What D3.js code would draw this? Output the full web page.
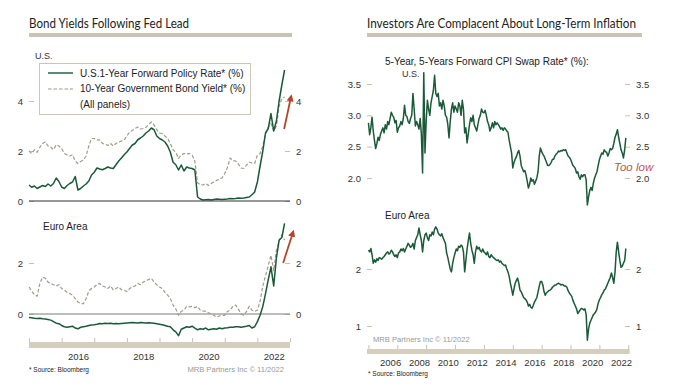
<!DOCTYPE html>
<html><head><meta charset="utf-8">
<script src="https://cdn.jsdelivr.net/npm/d3@7"></script>
<style>body{margin:0;background:#fff}svg{display:block}</style>
</head><body><svg id="c" width="678" height="392"></svg>
<script>
// ---------- DATA ----------
// Left chart: monthly, starting Jan 2015
const leftStart = 2015;
const usPolicy = [
 0.64,0.55,0.6,0.5,0.56,0.62,0.58,0.68,0.6,0.7,0.92,0.78,
 0.56,0.5,0.62,0.7,0.76,0.98,0.44,0.5,0.6,0.68,0.8,1.04,
 1.15,1.32,1.28,1.25,1.3,1.36,1.32,1.3,1.45,1.6,1.72,1.85,
 1.96,2.1,2.24,2.3,2.45,2.52,2.6,2.72,2.8,2.92,2.85,2.6,
 2.5,2.44,2.36,2.2,1.95,1.55,1.45,1.24,1.44,1.2,1.36,1.32,
 1.3,1.24,0.16,0.08,0.04,0.05,0.06,0.04,0.06,0.08,0.07,0.06,
 0.07,0.08,0.1,0.09,0.1,0.12,0.11,0.12,0.14,0.16,0.25,0.36,
 0.76,1.4,2.0,2.72,2.9,3.5,2.8,3.2,4.0,4.64,5.24];
const usBond = [
 2.0,1.9,2.05,1.95,2.15,2.3,2.36,2.2,2.15,2.05,2.25,2.2,
 2.1,1.9,1.84,1.8,1.85,1.6,1.5,1.58,1.64,1.8,2.2,2.5,
 2.5,2.44,2.45,2.3,2.28,2.22,2.3,2.2,2.3,2.36,2.4,2.44,
 2.6,2.76,2.82,2.9,2.96,2.88,2.9,2.95,3.05,3.16,3.04,2.85,
 2.72,2.7,2.6,2.5,2.3,2.05,1.95,1.7,1.84,1.9,1.88,1.9,
 1.84,1.6,0.72,0.66,0.64,0.7,0.62,0.7,0.76,0.82,0.88,0.92,
 1.1,1.35,1.72,1.62,1.6,1.48,1.32,1.3,1.44,1.55,1.52,1.5,
 1.84,1.9,2.2,2.7,2.96,3.1,2.8,3.0,3.8,4.1,4.16];
const euPolicy = [
 -0.14,-0.15,-0.17,-0.18,-0.17,-0.19,-0.2,-0.22,-0.24,-0.3,-0.36,-0.38,
 -0.45,-0.5,-0.52,-0.5,-0.48,-0.55,-0.58,-0.52,-0.5,-0.48,-0.45,-0.43,
 -0.42,-0.4,-0.37,-0.38,-0.36,-0.37,-0.36,-0.38,-0.37,-0.38,-0.37,-0.36,
 -0.35,-0.34,-0.33,-0.34,-0.35,-0.33,-0.34,-0.35,-0.34,-0.35,-0.36,-0.38,
 -0.4,-0.42,-0.45,-0.48,-0.5,-0.62,-0.7,-0.85,-0.6,-0.55,-0.5,-0.52,
 -0.48,-0.55,-0.62,-0.58,-0.6,-0.55,-0.62,-0.6,-0.58,-0.6,-0.55,-0.58,
 -0.55,-0.54,-0.52,-0.52,-0.5,-0.5,-0.52,-0.5,-0.48,-0.45,-0.55,-0.5,
 -0.3,-0.05,0.3,0.8,1.35,1.85,1.1,2.2,2.9,3.0,3.55];
const euBond = [
 1.06,0.9,0.75,0.7,1.2,1.45,1.4,1.25,1.2,1.15,1.1,1.15,
 1.0,0.94,0.85,0.8,0.74,0.6,0.47,0.42,0.4,0.6,0.9,1.0,
 1.06,1.15,1.2,1.1,1.06,1.0,1.1,0.94,1.0,1.06,0.95,0.92,
 0.88,1.0,1.06,1.1,1.2,1.15,1.25,1.3,1.35,1.4,1.25,1.15,
 1.06,1.0,0.85,0.74,0.6,0.35,0.2,-0.05,0.1,0.15,0.3,0.28,
 0.3,0.25,0.3,0.15,0.12,0.1,0.05,0.0,-0.05,-0.12,-0.08,-0.05,
 -0.05,0.1,0.15,0.3,0.35,0.2,0.0,-0.05,0.1,0.3,0.15,0.1,
 0.15,0.5,1.1,1.5,1.9,2.3,1.7,2.5,2.85,3.1,2.9];
const leftTicksTop = [0,2,4];
const leftTicksBottom = [0,2];
const leftYearLabels = [2016,2018,2020,2022];

// Right chart: monthly, starting Jan 2005
const rightStart = 2005;
const usSwap = [
 2.88,2.69,2.8,2.97,2.75,2.6,2.47,2.55,2.65,2.6,2.7,2.75,
 2.8,2.72,2.85,2.78,2.9,2.85,2.95,3.05,3.0,2.97,2.88,2.92,
 2.73,2.8,2.83,2.9,2.85,2.95,3.16,3.0,2.98,2.9,2.87,2.95,
 3.0,3.35,3.1,2.83,2.9,2.85,2.78,2.95,2.7,2.08,3.68,2.4,
 2.9,3.24,3.1,3.0,3.2,3.3,3.4,3.64,3.35,3.3,3.35,3.15,
 3.2,3.1,3.24,3.15,3.0,2.97,2.85,2.64,2.9,3.1,3.2,3.05,
 3.15,3.1,3.05,3.2,3.15,3.0,3.24,3.1,2.72,2.8,2.56,2.7,
 2.85,2.96,2.9,3.0,2.85,2.8,2.75,2.85,2.95,3.0,3.1,3.05,
 3.04,3.08,3.0,2.9,2.85,2.75,2.8,2.88,2.8,2.9,2.85,2.88,
 2.85,2.82,2.78,2.8,2.76,2.8,2.78,2.75,2.73,2.6,2.5,2.4,
 2.16,2.25,2.3,2.34,2.4,2.44,2.35,2.2,2.15,2.1,2.12,2.05,
 1.95,1.84,1.9,2.0,1.95,1.97,1.9,1.95,2.0,2.1,2.35,2.48,
 2.42,2.38,2.35,2.3,2.25,2.2,2.2,2.22,2.25,2.3,2.3,2.35,
 2.38,2.4,2.43,2.42,2.44,2.43,2.45,2.44,2.45,2.4,2.35,2.33,
 2.3,2.25,2.2,2.18,2.15,2.08,2.1,2.02,1.98,2.05,2.02,2.05,
 2.05,1.97,1.57,1.7,1.8,1.85,1.8,1.92,2.0,2.05,2.1,2.2,
 2.29,2.35,2.4,2.38,2.45,2.42,2.41,2.35,2.4,2.47,2.45,2.47,
 2.55,2.65,2.7,2.77,2.65,2.55,2.45,2.4,2.32,2.45,2.64];
const euSwap = [
 2.33,2.3,2.36,2.25,2.1,2.16,2.12,2.18,2.15,2.2,2.19,2.17,
 2.2,2.22,2.25,2.28,2.3,2.26,2.28,2.33,2.3,2.25,2.22,2.25,
 2.2,2.28,2.3,2.35,2.32,2.36,2.3,2.35,2.4,2.45,2.42,2.38,
 2.4,2.45,2.35,2.5,2.55,2.6,2.72,2.6,2.5,2.3,2.5,2.6,
 2.63,2.55,2.5,2.6,2.58,2.65,2.6,2.7,2.74,2.7,2.63,2.6,
 2.58,2.62,2.55,2.5,2.45,2.28,2.2,2.1,2.0,1.95,2.1,2.2,
 2.28,2.35,2.32,2.4,2.38,2.42,2.4,2.3,1.95,2.15,2.35,2.5,
 2.63,2.45,2.33,2.25,2.1,2.3,2.4,2.35,2.38,2.32,2.3,2.35,
 2.3,2.28,2.25,2.3,2.22,2.2,2.25,2.22,2.2,2.18,2.16,2.15,
 2.16,2.12,2.14,2.1,2.08,2.06,2.07,2.0,1.95,1.87,1.75,1.65,
 1.54,1.65,1.75,1.8,1.84,1.75,1.63,1.6,1.55,1.5,1.48,1.46,
 1.42,1.35,1.38,1.33,1.31,1.36,1.42,1.46,1.5,1.6,1.7,1.78,
 1.78,1.72,1.6,1.54,1.58,1.6,1.62,1.63,1.65,1.68,1.7,1.72,
 1.72,1.74,1.75,1.74,1.72,1.73,1.72,1.7,1.7,1.68,1.62,1.58,
 1.55,1.52,1.45,1.4,1.35,1.3,1.22,1.25,1.28,1.31,1.3,1.28,
 1.3,1.2,0.75,0.95,1.05,1.1,1.15,1.2,1.22,1.25,1.3,1.4,
 1.46,1.5,1.55,1.58,1.63,1.65,1.7,1.75,1.8,1.85,1.93,1.85,
 1.75,1.95,2.3,2.47,2.3,2.15,2.03,2.05,2.1,2.15,2.36];
const rightTicksTop = [2.0,2.5,3.0,3.5];
const rightTicksBottom = [1,2];
const rightYearLabels = [2006,2008,2010,2012,2014,2016,2018,2020,2022];

// annotation arrows (data space)
const usArrow = [[2022.82, 2.88],[2023.03, 4.16]];
const euArrow = [[2022.79, 2.0],[2023.09, 3.2]];

// ---------- DRAW ----------
const svg = d3.select('#c');
const FONT = '"Liberation Sans", Arial, sans-serif';
const TFONT = 'Lato, "Open Sans", sans-serif';
const GREEN = '#1b5a38', TAN = '#a3988a', TICK = '#c9c1ae', BAND = '#d6cebd', TXT = '#333';

const defs = svg.append('defs');
defs.append('marker').attr('id','arr').attr('viewBox','0 0 10 10').attr('refX',6).attr('refY',5)
  .attr('markerWidth',4).attr('markerHeight',4).attr('orient','auto')
  .append('path').attr('d','M0,0L10,5L0,10z').attr('fill','#b4462c');

function title(x, txt, len, barEnd){
  svg.append('text').attr('x',x).attr('y',27.5).attr('font-family',TFONT).attr('font-size',13)
    .attr('fill','#222').attr('textLength',len).attr('lengthAdjust','spacingAndGlyphs').text(txt);
  svg.append('rect').attr('x',x).attr('y',33).attr('width',barEnd-x).attr('height',4).attr('fill','#cbc3b1');
}
title(29,'Bond Yields Following Fed Lead',160,292);
title(367,'Investors Are Complacent About Long-Term Inflation',269,642);

function yAxes(g, y, x0, x1, ticks, fmt){
  const l = g.append('g').attr('transform',`translate(${x0},0)`)
    .call(d3.axisLeft(y).tickValues(ticks).tickSize(-5).tickPadding(6).tickFormat(fmt));
  const r = g.append('g').attr('transform',`translate(${x1},0)`)
    .call(d3.axisRight(y).tickValues(ticks).tickSize(-5).tickPadding(6).tickFormat(fmt));
  [l,r].forEach(a=>{
    a.select('.domain').remove();
    a.selectAll('line').attr('stroke',TICK);
    a.selectAll('text').attr('font-family',FONT).attr('font-size',9.5).attr('fill',TXT);
  });
}
function drawLine(g, data, start, x, y, color, dash, w){
  const line = d3.line().x((d,i)=>x(start + i/12)).y(d=>y(d));
  g.append('path').datum(data).attr('d',line).attr('fill','none').attr('stroke',color)
    .attr('stroke-width',w).attr('stroke-dasharray',dash||null).attr('stroke-linejoin','round');
}
function xAxis(g, x, yTop, bandH, tickYears, labelYears){
  g.append('rect').attr('x',x.range()[0]).attr('y',yTop).attr('width',x.range()[1]-x.range()[0])
    .attr('height',bandH).attr('fill',BAND);
  const t = g.append('g').attr('transform',`translate(0,${yTop})`)
    .call(d3.axisTop(x).tickValues(tickYears).tickSize(4).tickFormat(''));
  t.select('.domain').remove(); t.selectAll('line').attr('stroke',TICK);
  const lb = g.append('g').attr('transform',`translate(0,${yTop+bandH})`)
    .call(d3.axisBottom(x).tickValues(labelYears.map(v=>v+0.5)).tickSize(0).tickPadding(5).tickFormat(v=>Math.floor(v)));
  lb.select('.domain').remove();
  lb.selectAll('text').attr('font-family',FONT).attr('font-size',9.5).attr('fill',TXT);
}
function arrow(g, pts, x, y){
  g.append('path').datum(pts).attr('d',d3.line().x(d=>x(d[0])).y(d=>y(d[1])))
    .attr('stroke','#b4462c').attr('stroke-width',1.8).attr('fill','none').attr('marker-end','url(#arr)');
}

// ---- Left chart ----
const gL = svg.append('g');
const xL = d3.scaleLinear().domain([2015, 2023]).range([29, 290]);
const yLT = d3.scaleLinear().domain([0, 5.6]).range([201, 61]);
const yLB = d3.scaleLinear().domain([-1.1, 3.7]).range([342.05, 219.65]);

yAxes(gL, yLT, 29, 290, leftTicksTop, d3.format('d'));
yAxes(gL, yLB, 29, 290, leftTicksBottom, d3.format('d'));
gL.append('line').attr('x1',xL(2015)).attr('x2',xL(2023)).attr('y1',yLB(0)).attr('y2',yLB(0)).attr('stroke','#7a7a7a').attr('stroke-width',1);

drawLine(gL, usBond, leftStart, xL, yLT, TAN, '3.5,2', 1.2);
drawLine(gL, usPolicy, leftStart, xL, yLT, GREEN, null, 1.5);
drawLine(gL, euBond, leftStart, xL, yLB, TAN, '3.5,2', 1.2);
drawLine(gL, euPolicy, leftStart, xL, yLB, GREEN, null, 1.5);
gL.append('line').attr('x1',xL(2015)).attr('x2',xL(2023)).attr('y1',yLT(0)).attr('y2',yLT(0)).attr('stroke','#333').attr('stroke-width',1.2);
arrow(gL, usArrow, xL, yLT);
arrow(gL, euArrow, xL, yLB);

xAxis(gL, xL, 342, 6, d3.range(2015, 2024), leftYearLabels);

gL.append('text').attr('x',35).attr('y',59).attr('font-family',FONT).attr('font-size',9).attr('fill','#3a2d45').text('U.S.');
gL.append('text').attr('x',43).attr('y',230).attr('font-family',FONT).attr('font-size',10).attr('fill','#222').text('Euro Area');

// legend
const lg = gL.append('g');
lg.append('rect').attr('x',39.5).attr('y',63.5).attr('width',211).attr('height',51).attr('fill','#fff').attr('stroke','#cdc6b4');
lg.append('line').attr('x1',48).attr('x2',73).attr('y1',73).attr('y2',73).attr('stroke',GREEN).attr('stroke-width',1.4);
lg.append('line').attr('x1',48).attr('x2',73).attr('y1',89).attr('y2',89).attr('stroke',TAN).attr('stroke-width',1.2).attr('stroke-dasharray','3.5,2');
[['U.S.1-Year Forward Policy Rate* (%)',76.5],['10-Year Government Bond Yield* (%)',92],['(All panels)',107.5]].forEach(([t,y])=>{
  lg.append('text').attr('x',80).attr('y',y).attr('font-family',FONT).attr('font-size',10).attr('fill','#222').text(t);
});

gL.append('text').attr('x',29).attr('y',372).attr('font-family',FONT).attr('font-size',6.5).attr('fill','#222').text('* Source: Bloomberg');
gL.append('text').attr('x',284).attr('y',372).attr('text-anchor','end').attr('font-family',FONT).attr('font-size',7.6).attr('fill','#999').text('MRB Partners Inc © 11/2022');

// ---- Right chart ----
const gR = svg.append('g');
const xR = d3.scaleLinear().domain([2004.9, 2023.1]).range([367, 629.7]);
const yRT = d3.scaleLinear().domain([1.5, 3.8]).range([209.3, 65.2]);
const yRB = d3.scaleLinear().domain([0.6, 2.85]).range([348.8, 220.55]);

yAxes(gR, yRT, 367, 630, rightTicksTop, d3.format('.1f'));
yAxes(gR, yRB, 367, 630, rightTicksBottom, d3.format('d'));
drawLine(gR, usSwap, rightStart, xR, yRT, GREEN, null, 1.5);
drawLine(gR, euSwap, rightStart, xR, yRB, GREEN, null, 1.5);
xAxis(gR, xR, 349, 5, d3.range(2005, 2024, 2), rightYearLabels);

gR.append('text').attr('x',385).attr('y',65).attr('font-family',FONT).attr('font-size',10).attr('fill','#222').text('5-Year, 5-Years Forward CPI Swap Rate* (%):');
gR.append('text').attr('x',402).attr('y',77).attr('font-family',FONT).attr('font-size',9).attr('fill','#3a2d45').text('U.S.');
gR.append('text').attr('x',385).attr('y',219).attr('font-family',FONT).attr('font-size',10).attr('fill','#222').text('Euro Area');
gR.append('text').attr('x',614).attr('y',171).attr('font-family',FONT).attr('font-style','italic').attr('font-size',11.5).attr('fill','#c4534a').text('Too low');
gR.append('text').attr('x',373).attr('y',342).attr('font-family',FONT).attr('font-size',7.6).attr('fill','#999').text('MRB Partners Inc © 11/2022');
gR.append('text').attr('x',368).attr('y',376).attr('font-family',FONT).attr('font-size',6.5).attr('fill','#222').text('* Source: Bloomberg');
</script></body></html>
